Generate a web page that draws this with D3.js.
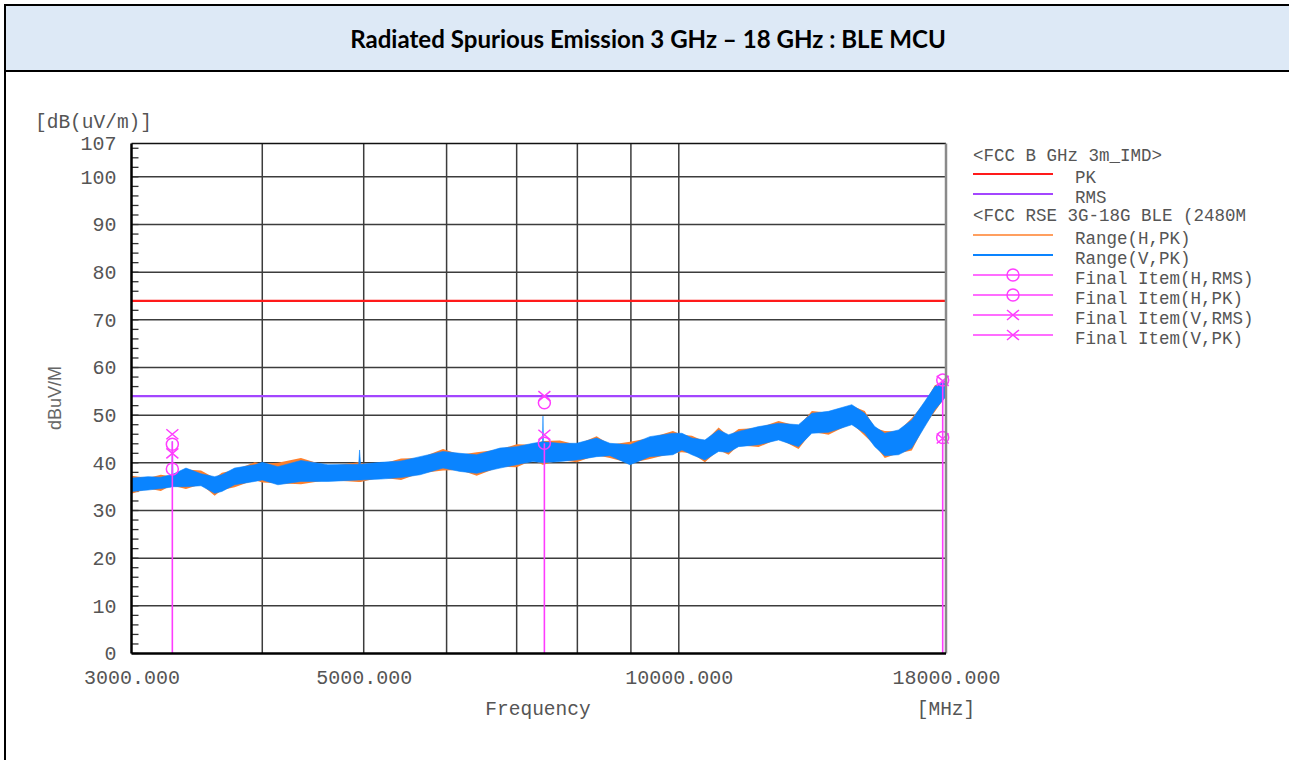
<!DOCTYPE html>
<html><head><meta charset="utf-8">
<script src="https://cdn.jsdelivr.net/npm/d3@7"></script>
<style>body{margin:0;background:#fff;} svg{display:block}</style>
</head><body><svg id="c" width="1289" height="760"></svg>
<script>
// ---------- data ----------
const titleText = "Radiated Spurious Emission 3 GHz \u2013 18 GHz : BLE MCU";
const yTicks = [0,10,20,30,40,50,60,70,80,90,100,107];
const yGrid = [10,20,30,40,50,60,70,80,90,100];
const xGrid = [4000,5000,6000,7000,8000,9000,10000];
const xLabels = [3000,5000,10000,18000];
const limitPK = 74;
const limitRMS = 54;

const freqs = [3000,3111,3200,3272,3278,3282,3286,3382,3496,3602,3660,3764,3934,4000,4140,4355,4621,4945,4955,4965,5192,5428,5660,5953,6180,6411,6748,7000,7256,7410,7417,7424,7699,7987,8346,8594,8981,9384,9871,10069,10292,10591,10915,11158,11405,11918,12454,13014,13400,13901,14631,15055,15390,15732,16214,16695,17180,17562,18000];
const vLo = [34.0,34.3,34.6,34.9,35.0,35.0,35.0,35.0,35.2,33.6,34.0,35.4,36.1,36.4,35.4,36.1,36.1,36.4,36.4,36.4,36.6,36.9,37.5,38.9,38.2,37.8,38.9,39.6,40.3,40.0,40.0,40.0,40.3,40.6,41.3,41.5,39.6,41.3,41.7,42.7,41.7,40.6,42.4,42.2,43.4,43.8,44.8,43.4,46.2,46.4,48.0,46.2,43.4,41.5,41.7,43.1,47.6,51.1,53.9];
const vHi = [36.8,37.1,37.0,37.5,37.5,44.5,37.6,38.9,37.7,37.1,37.5,38.9,39.6,40.1,39.2,40.5,39.6,39.7,42.7,39.7,40.1,40.4,41.3,42.4,42.0,41.7,43.1,43.4,44.1,44.4,49.8,44.4,44.1,44.1,45.2,44.1,43.8,45.5,46.2,46.2,45.2,44.8,46.9,45.9,46.6,47.6,48.3,48.0,50.4,50.8,52.2,50.4,47.6,46.2,46.9,49.0,52.9,56.0,57.4];
const hLo = [33.5,34.6,34.1,35.2,35.2,35.2,35.2,34.5,35.5,33.1,34.3,34.9,36.4,35.9,35.7,35.5,36.4,36.0,36.0,36.0,36.9,36.4,37.8,38.4,38.5,37.3,39.2,39.1,40.6,39.6,39.6,39.6,40.6,40.1,41.6,41.0,39.9,40.8,42.0,42.2,42.0,40.1,42.7,41.7,43.7,43.3,45.1,42.9,46.5,45.9,48.3,45.7,43.7,41.0,42.0,42.6,47.9,50.7,54.1];
const hHi = [37.3,36.8,37.5,37.2,37.2,37.6,37.3,38.6,38.4,36.8,37.9,38.5,40.1,39.8,40.0,41.0,39.3,40.1,40.0,39.9,39.7,40.9,41.0,42.9,41.7,42.2,42.8,43.9,43.8,44.6,44.6,44.6,44.7,43.8,45.6,43.8,44.4,45.2,46.7,45.9,45.7,44.5,47.4,45.6,47.1,47.3,48.8,47.7,50.9,50.5,52.0,50.9,47.3,46.7,46.6,49.4,52.6,56.3,57.2];

const finalFreqs = [3282, 7440, 17870];
const finalHRMS = [38.7, 44.1, 45.3];
const finalHPK  = [43.9, 52.6, 57.4];
const finalVRMS = [42.0, 45.9, 45.1];
const finalVPK  = [46.0, 54.0, 57.2];
const stemTop   = [44.5, 44.1, 57.3];

const legendHeader1 = "<FCC B GHz 3m_IMD>";
const legendHeader2 = "<FCC RSE 3G-18G BLE (2480M";
const legendItems = ["PK","RMS","Range(H,PK)","Range(V,PK)","Final Item(H,RMS)","Final Item(H,PK)","Final Item(V,RMS)","Final Item(V,PK)"];

// ---------- drawing ----------
const svg = d3.select('#c');
const MONO = "'Liberation Mono','Courier New',monospace";
const TXT = '#555';
const MAG = '#ff3cff';
const C_RED = '#ff1a1a', C_PUR = '#a346ff', C_OR = '#ff7f2a', C_BL = '#0a84ff';

// frame boxes
svg.append('rect').attr('x',5).attr('y',71).attr('width',1300).attr('height',700)
  .attr('fill','#fff').attr('stroke','#000').attr('stroke-width',2);
svg.append('rect').attr('x',5).attr('y',5).attr('width',1300).attr('height',66)
  .attr('fill','#dde9f6').attr('stroke','#000').attr('stroke-width',2);
const title = svg.append('text').attr('x',648).attr('y',48).attr('text-anchor','middle')
  .attr('font-family',"Lato,'Open Sans',sans-serif").attr('font-weight','bold')
  .attr('font-size',20).attr('fill','#000').text(titleText);
{ const w = title.node().getComputedTextLength(); title.attr('font-size', 20*596/w); }

const X0=131.5, X1=946, Y0=653.5, Y1=143.5;
const x = d3.scaleLog().domain([3000,18000]).range([X0,X1]);
const y = d3.scaleLinear().domain([0,107]).range([Y0,Y1]);

// grid
const g = svg.append('g');
g.selectAll('.hg').data(yGrid).join('line').attr('x1',X0).attr('x2',X1)
  .attr('y1',d=>y(d)).attr('y2',d=>y(d)).attr('stroke','#3c3c3c').attr('stroke-width',1.5);
g.selectAll('.vg').data(xGrid).join('line').attr('y1',Y0).attr('y2',Y1)
  .attr('x1',d=>x(d)).attr('x2',d=>x(d)).attr('stroke','#3c3c3c').attr('stroke-width',1.5);

// minor y ticks (inside)
const minor = d3.range(0,107,2);
g.selectAll('.mt').data(minor).join('line').attr('x1',X0).attr('x2',X0+7)
  .attr('y1',d=>y(d)).attr('y2',d=>y(d)).attr('stroke','#333').attr('stroke-width',1.3);

// clip
svg.append('clipPath').attr('id','pc').append('rect').attr('x',X0).attr('y',Y1).attr('width',X1-X0).attr('height',Y0-Y1);
const pg = svg.append('g').attr('clip-path','url(#pc)');

// limits
pg.append('line').attr('x1',x(3000)).attr('x2',x(18000)).attr('y1',y(limitPK)).attr('y2',y(limitPK))
  .attr('stroke',C_RED).attr('stroke-width',2.2);
pg.append('line').attr('x1',x(3000)).attr('x2',x(18000)).attr('y1',y(limitRMS)).attr('y2',y(limitRMS))
  .attr('stroke',C_PUR).attr('stroke-width',2.2);

// traces
const hData = freqs.map((f,i)=>({f, lo:hLo[i], hi:hHi[i]}));
const vData = freqs.map((f,i)=>({f, lo:vLo[i], hi:vHi[i]}));
const area = d3.area().x(d=>x(d.f)).y0(d=>y(d.lo)).y1(d=>y(d.hi));
pg.append('path').datum(hData).attr('d',area).attr('fill',C_OR);
pg.append('path').datum(vData).attr('d',area).attr('fill',C_BL).attr('stroke',C_BL).attr('stroke-width',0.6);

// stems
svg.selectAll('.stem').data(finalFreqs).join('line')
  .attr('x1',d=>x(d)).attr('x2',d=>x(d)).attr('y1',y(0)).attr('y2',(d,i)=>y(stemTop[i]))
  .attr('stroke',MAG).attr('stroke-width',1.6);

function circ(sel, cx, cy){ sel.append('circle').attr('cx',cx).attr('cy',cy).attr('r',6)
  .attr('fill','none').attr('stroke',MAG).attr('stroke-width',1.5); }
function cross(sel, cx, cy){ sel.append('path').attr('d',`M${cx-6},${cy-5}L${cx+6},${cy+5}M${cx-6},${cy+5}L${cx+6},${cy-5}`)
  .attr('fill','none').attr('stroke',MAG).attr('stroke-width',1.5); }
const mk = svg.append('g');
finalFreqs.forEach((f,i)=>{
  circ(mk, x(f), y(finalHRMS[i]));
  circ(mk, x(f), y(finalHPK[i]));
  cross(mk, x(f), y(finalVRMS[i]));
  cross(mk, x(f), y(finalVPK[i]));
});

// frame of plot
svg.append('line').attr('x1',X0).attr('x2',X1).attr('y1',Y1).attr('y2',Y1).attr('stroke','#111').attr('stroke-width',1.5);
svg.append('line').attr('x1',X1).attr('x2',X1).attr('y1',Y1).attr('y2',Y0).attr('stroke','#8a8a8a').attr('stroke-width',2.5);
svg.append('line').attr('x1',X0).attr('x2',X0).attr('y1',Y1).attr('y2',Y0).attr('stroke','#000').attr('stroke-width',2.5);
svg.append('line').attr('x1',X0).attr('x2',X1).attr('y1',Y0).attr('y2',Y0).attr('stroke','#000').attr('stroke-width',2.5);

// axes labels
const ya = svg.append('g').attr('transform',`translate(${X0},0)`)
  .call(d3.axisLeft(y).tickValues(yTicks).tickSize(0).tickPadding(15));
ya.select('.domain').remove();
ya.selectAll('text').attr('font-family',MONO).attr('font-size',20).attr('fill',TXT);

const xa = svg.append('g').attr('transform',`translate(0,${Y0})`)
  .call(d3.axisBottom(x).tickValues(xLabels).tickFormat(d3.format('.3f')).tickSize(0).tickPadding(16));
xa.select('.domain').remove();
xa.selectAll('text').attr('font-family',MONO).attr('font-size',20).attr('fill',TXT);

svg.append('text').attr('x',35).attr('y',128).attr('font-family',MONO).attr('font-size',19.5).attr('fill',TXT).text('[dB(uV/m)]');
svg.append('text').attr('x',538).attr('y',715).attr('text-anchor','middle').attr('font-family',MONO).attr('font-size',19.5).attr('fill',TXT).text('Frequency');
svg.append('text').attr('x',946).attr('y',715).attr('text-anchor','middle').attr('font-family',MONO).attr('font-size',19.5).attr('fill',TXT).text('[MHz]');
svg.append('text').attr('transform','translate(61,398) rotate(-90)').attr('text-anchor','middle')
  .attr('font-family',"'Liberation Sans',Arial,sans-serif").attr('font-size',18).attr('fill','#666').text('dBuV/M');

// legend
const LF = 17.5;
const lg = svg.append('g').attr('font-family',MONO).attr('font-size',LF).attr('fill',TXT);
lg.append('text').attr('x',973).attr('y',161).text(legendHeader1);
lg.append('text').attr('x',973).attr('y',221).text(legendHeader2);
const itemY = [174,194,235,255,275,295,315,335];
const itemColor = [C_RED,C_PUR,C_OR,C_BL,MAG,MAG,MAG,MAG];
const itemW = [2.2,2.2,1.3,1.8,1.3,1.3,1.3,1.3];
legendItems.forEach((t,i)=>{
  lg.append('line').attr('x1',973).attr('x2',1053).attr('y1',itemY[i]).attr('y2',itemY[i])
    .attr('stroke',itemColor[i]).attr('stroke-width',itemW[i]);
  lg.append('text').attr('x',1075).attr('y',itemY[i]+8.5).text(t);
  if(i===4||i===5) circ(lg,1013,itemY[i]);
  if(i===6||i===7) cross(lg,1013,itemY[i]);
});
</script></body></html>
